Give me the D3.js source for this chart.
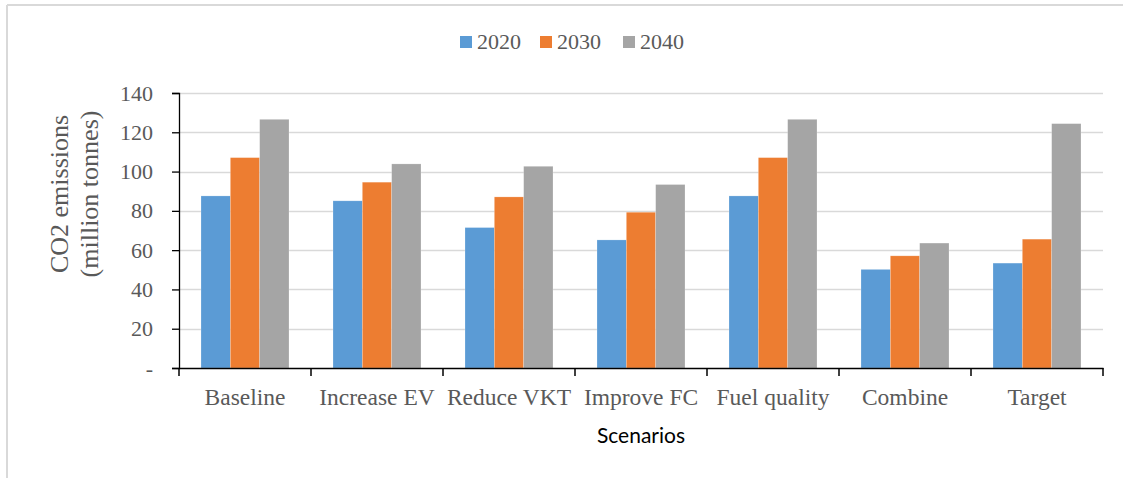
<!DOCTYPE html>
<html>
<head>
<meta charset="utf-8">
<script src="https://cdn.jsdelivr.net/npm/d3@7"></script>
<style>
  body { margin: 0; background: #fff; }
  svg { display: block; }
</style>
</head>
<body>
<svg id="chart"></svg>
<script>
// scenario data, million tonnes CO2
const scenarios = ["Baseline", "Increase EV", "Reduce VKT", "Improve FC", "Fuel quality", "Combine", "Target"];
const years = ["2020", "2030", "2040"];
const v2020 = [87.6, 85.1, 71.5, 65.2, 87.6, 50.2, 53.4];
const v2030 = [107.1, 94.6, 87.1, 79.3, 107.1, 57.1, 65.6];
const v2040 = [126.6, 103.9, 102.7, 93.4, 126.6, 63.6, 124.4];
const yTicks = [0, 20, 40, 60, 80, 100, 120, 140];

const colors = ["#5B9BD5", "#ED7D31", "#A5A5A5"];
const serif = "'Liberation Serif', 'Times New Roman', serif";

const W = 1123, H = 478;

const svg = d3.select("#chart").attr("width", W).attr("height", H);

// outer frame (top + left only visible)
svg.append("line").attr("x1", 7).attr("x2", 1123).attr("y1", 5).attr("y2", 5)
  .attr("stroke", "#D9D9D9").attr("stroke-width", 2);
svg.append("line").attr("x1", 7).attr("x2", 7).attr("y1", 5).attr("y2", H)
  .attr("stroke", "#D9D9D9").attr("stroke-width", 2);

const rows = scenarios.map((s, i) => ({ name: s, vals: [v2020[i], v2030[i], v2040[i]] }));

const x0 = d3.scaleBand().domain(scenarios).range([179, 1103]).padding(0);
const x1 = d3.scaleBand().domain(years).range([22, x0.bandwidth() - 22]).padding(0);
const y = d3.scaleLinear().domain([0, 140]).range([368, 93]);

// gridlines
svg.append("g").selectAll("line").data(yTicks.slice(1)).join("line")
  .attr("x1", 179).attr("x2", 1103)
  .attr("y1", d => Math.round(y(d)) + 0.5).attr("y2", d => Math.round(y(d)) + 0.5)
  .attr("stroke", "#D9D9D9").attr("stroke-width", 1.3);

// bars
const grp = svg.append("g").selectAll("g").data(rows).join("g")
  .attr("transform", d => `translate(${x0(d.name)},0)`);
grp.selectAll("rect").data(d => d.vals.map((v, j) => ({ year: years[j], v, j }))).join("rect")
  .attr("x", d => x1(d.year))
  .attr("width", x1.bandwidth())
  .attr("y", d => y(d.v))
  .attr("height", d => y(0) - y(d.v))
  .attr("fill", d => colors[d.j])
  .attr("stroke", "#fff").attr("stroke-opacity", 0.35).attr("stroke-width", 0.6);

// y axis
const yAxis = svg.append("g").attr("transform", "translate(179,0)")
  .call(d3.axisLeft(y).tickValues(yTicks).tickSize(7).tickPadding(19)
    .tickFormat(d => d === 0 ? "-" : d));
yAxis.select(".domain").attr("stroke", "#000").attr("stroke-width", 1.3);
yAxis.selectAll(".tick line").attr("stroke", "#000").attr("stroke-width", 1.3);
yAxis.selectAll("text").attr("fill", "#595959").style("font-family", serif).style("font-size", "22px");

// x axis
const xAxis = svg.append("g").attr("transform", "translate(0,368)")
  .call(d3.axisBottom(x0).tickSize(0).tickSizeOuter(0).tickPadding(21));
xAxis.select(".domain").attr("stroke", "#000").attr("stroke-width", 1.5);
xAxis.selectAll("text").attr("fill", "#595959").style("font-family", serif).style("font-size", "23.5px")
  .attr("dy", null).attr("y", 37);
// category boundary ticks
svg.append("g").selectAll("line").data(d3.range(scenarios.length + 1)).join("line")
  .attr("x1", i => 179 + i * x0.step()).attr("x2", i => 179 + i * x0.step())
  .attr("y1", 368).attr("y2", 376)
  .attr("stroke", "#000").attr("stroke-width", 1.5);

// axis titles
svg.append("text")
  .attr("x", 641).attr("y", 443).attr("text-anchor", "middle")
  .style("font-family", "Lato, 'Open Sans', sans-serif")
  .style("font-size", "21px").attr("fill", "#000")
  .text("Scenarios");

const yt = svg.append("text")
  .attr("transform", "translate(68,194) rotate(-90)")
  .attr("text-anchor", "middle")
  .style("font-family", serif).style("font-size", "26px").attr("fill", "#595959");
yt.append("tspan").attr("x", 0).attr("y", 0).text("CO2 emissions");
yt.append("tspan").attr("x", 0).attr("y", 30).text("(million tonnes)");

// legend
const legX = [460, 540, 623];
const leg = svg.append("g").selectAll("g").data(years).join("g")
  .attr("transform", (d, i) => `translate(${legX[i]},36)`);
leg.append("rect").attr("width", 12).attr("height", 12).attr("fill", (d, i) => colors[i]);
leg.append("text").attr("x", 17).attr("y", 13)
  .style("font-family", serif).style("font-size", "22px").attr("fill", "#595959")
  .text(d => d);
</script>
</body>
</html>
